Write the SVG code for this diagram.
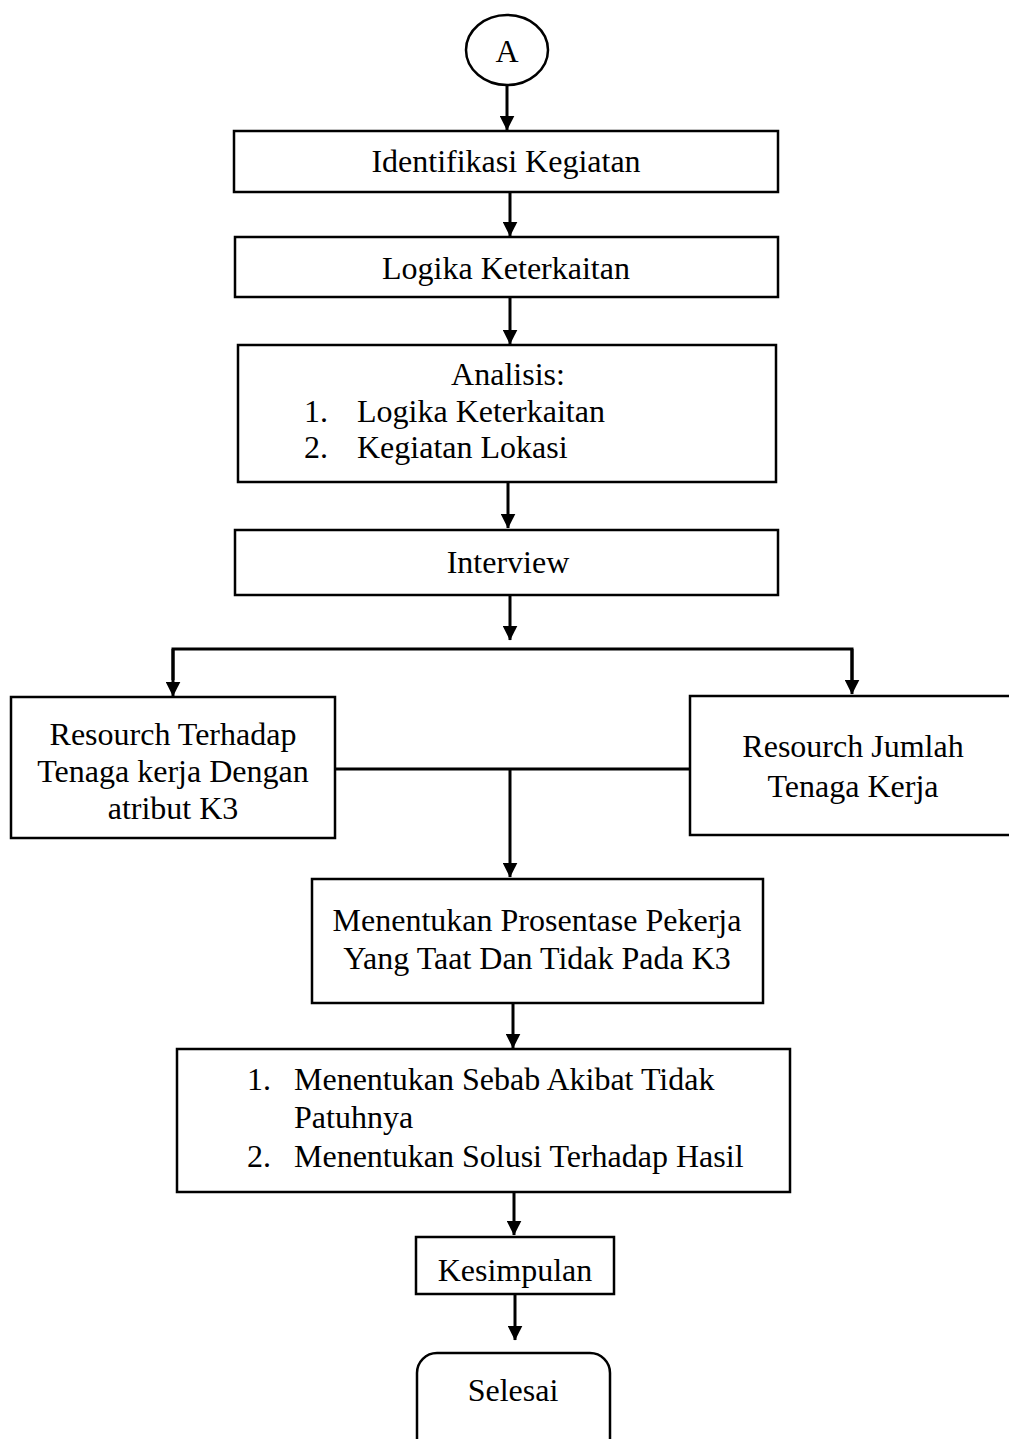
<svg xmlns="http://www.w3.org/2000/svg" width="1009" height="1439" viewBox="0 0 1009 1439">
<defs>
<marker id="ah" markerWidth="5" markerHeight="5" refX="4.8" refY="2.5" orient="auto" markerUnits="strokeWidth">
<path d="M0,0 L5,2.5 L0,5 Z" fill="#000"/>
</marker>
<style>
.box{fill:#fff;stroke:#000;stroke-width:2.5}
.ln{fill:none;stroke:#000;stroke-width:3}
.ar{fill:none;stroke:#000;stroke-width:3;marker-end:url(#ah)}
text{font-family:"Liberation Serif","Times New Roman",serif;font-size:32px;fill:#000}
.c{text-anchor:middle}
</style>
</defs>
<rect width="1009" height="1439" fill="#fff"/>
<g id="connectors">
<line class="ar" x1="507" y1="85" x2="507" y2="130"/>
<line class="ar" x1="510" y1="193" x2="510" y2="236"/>
<line class="ar" x1="510" y1="297" x2="510" y2="344"/>
<line class="ar" x1="508" y1="482" x2="508" y2="528"/>
<line class="ar" x1="510" y1="595" x2="510" y2="640"/>
<polyline class="ln" points="173,680 173,649 852,649 852,680"/>
<line class="ar" x1="173" y1="649" x2="173" y2="696"/>
<line class="ar" x1="852" y1="649" x2="852" y2="694"/>
<line class="ln" x1="335" y1="769" x2="690" y2="769"/>
<line class="ar" x1="510" y1="769" x2="510" y2="877"/>
<line class="ar" x1="513" y1="1003" x2="513" y2="1048"/>
<line class="ar" x1="514" y1="1192" x2="514" y2="1235"/>
<line class="ar" x1="515" y1="1295" x2="515" y2="1340"/>
</g>
<g id="n_a">
<ellipse class="box" cx="507" cy="50" rx="41" ry="35"/>
<text class="c" x="507" y="62">A</text>
</g>
<g id="n_identifikasi">
<rect class="box" x="234" y="131" width="544" height="61"/>
<text class="c" x="506" y="172">Identifikasi Kegiatan</text>
</g>
<g id="n_logika">
<rect class="box" x="235" y="237" width="543" height="60"/>
<text class="c" x="506" y="279">Logika Keterkaitan</text>
</g>
<g id="n_analisis">
<rect class="box" x="238" y="345" width="538" height="137"/>
<text class="c" x="508" y="385">Analisis:</text>
<text x="304" y="422">1.</text>
<text x="357" y="422">Logika Keterkaitan</text>
<text x="304" y="458">2.</text>
<text x="357" y="458">Kegiatan Lokasi</text>
</g>
<g id="n_interview">
<rect class="box" x="235" y="530" width="543" height="65"/>
<text class="c" x="508" y="573">Interview</text>
</g>
<g id="n_resource_k3">
<rect class="box" x="11" y="697" width="324" height="141"/>
<text class="c" x="173" y="745">Resourch Terhadap</text>
<text class="c" x="173" y="782">Tenaga kerja Dengan</text>
<text class="c" x="173" y="819">atribut K3</text>
</g>
<g id="n_resource_jumlah">
<rect class="box" x="690" y="696" width="330" height="139"/>
<text class="c" x="853" y="757">Resourch Jumlah</text>
<text class="c" x="853" y="797">Tenaga Kerja</text>
</g>
<g id="n_prosentase">
<rect class="box" x="312" y="879" width="451" height="124"/>
<text class="c" x="537" y="931">Menentukan Prosentase Pekerja</text>
<text class="c" x="537" y="969">Yang Taat Dan Tidak Pada K3</text>
</g>
<g id="n_sebab">
<rect class="box" x="177" y="1049" width="613" height="143"/>
<text x="247" y="1090">1.</text>
<text x="294" y="1090">Menentukan Sebab Akibat Tidak</text>
<text x="294" y="1128">Patuhnya</text>
<text x="247" y="1167">2.</text>
<text x="294" y="1167">Menentukan Solusi Terhadap Hasil</text>
</g>
<g id="n_kesimpulan">
<rect class="box" x="416" y="1237" width="198" height="57"/>
<text class="c" x="515" y="1281">Kesimpulan</text>
</g>
<g id="n_selesai">
<rect class="box" x="417" y="1353" width="193" height="110" rx="20"/>
<text class="c" x="513" y="1401">Selesai</text>
</g>
</svg>
